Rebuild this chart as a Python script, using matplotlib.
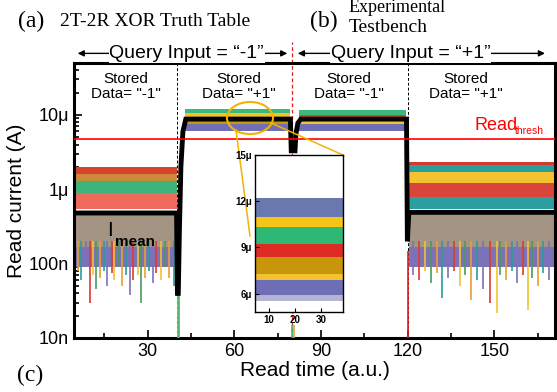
import matplotlib
matplotlib.use("Agg")
import matplotlib.pyplot as plt
from matplotlib.patches import Ellipse
from matplotlib.lines import Line2D

W, H = 557, 392
plt.rcParams['font.family'] = ['Liberation Sans', 'DejaVu Sans']

# ---- data ----
# black mean current trace, three pieces
mean_x1 = [4.5, 40.0, 40.3]
mean_y1 = [4.8e-7, 4.8e-7, 4.0e-8]
mean_x2 = [40.6, 41.0, 41.5, 42.2, 43.2, 79.4, 79.7]
mean_y2 = [4.0e-8, 3.0e-7, 2.0e-6, 6.0e-6, 8.8e-6, 8.8e-6, 3.3e-6]
mean_x3 = [81.0, 81.3, 82.0, 83.0, 119.6, 119.9, 120.4, 121.5, 171.0]
mean_y3 = [3.3e-6, 5.5e-6, 7.8e-6, 8.8e-6, 8.8e-6, 2.0e-7, 4.9e-7, 4.9e-7, 4.9e-7]

# time spans of the four states
low1_span = (4.5, 40.0)
high1_span = (43.0, 79.3)
high2_span = (82.5, 119.5)
low2_span = (120.6, 171.0)

# envelopes of the cell traces in each state (bottom, top)
low1_bot = [9e-8, 1.7e-7, 1.3e-6, 1.0e-6, 7.5e-7, 5.5e-7]
low1_top = [2.2e-7, 4.6e-7, 2.0e-6, 1.6e-6, 1.3e-6, 9.0e-7]
low1_col = ['#7b72b8', '#a39484', '#d8432e', '#c98a3a', '#3db37a', '#ef6a5d']

low2_bot = [9e-8, 1.7e-7, 1.5e-6, 1.6e-6, 1.1e-6, 6.5e-7, 5.5e-7]
low2_top = [2.2e-7, 4.6e-7, 2.3e-6, 2.1e-6, 1.7e-6, 1.2e-6, 8.0e-7]
low2_col = ['#7b72b8', '#a39484', '#d23a2f', '#2b9ea0', '#f2c230', '#d9453a', '#2b9ea0']

high1_bot = [6.0e-6, 7.5e-6, 9.0e-6, 1.05e-5]
high1_top = [7.8e-6, 9.5e-6, 1.1e-5, 1.2e-5]
high1_col = ['#6f6fb8', '#c8960a', '#f2c230', '#3cb878']

high2_bot = [6.0e-6, 7.5e-6, 8.8e-6, 1.0e-5]
high2_top = [7.6e-6, 9.2e-6, 1.05e-5, 1.18e-5]
high2_col = ['#6f6fb8', '#f2c230', '#d9453a', '#3cb878']

# downward noise spikes in the low states
low1_spk_x = [6, 7, 8.5, 10, 11, 12.2, 13.5, 15, 16, 17.5, 18.5, 20, 21, 22.5,
              24, 25, 26.5, 27.8, 29, 30.5, 32, 33, 34.5, 36, 37.5, 39]
low1_spk_y = [8e-8, 6e-8, 9e-8, 3e-8, 7e-8, 4.5e-8, 6.5e-8, 8e-8, 5e-8, 7.5e-8,
              6e-8, 9e-8, 5e-8, 7e-8, 3.8e-8, 6e-8, 7e-8, 3e-8, 6.5e-8, 8e-8,
              5.5e-8, 7.5e-8, 6e-8, 9e-8, 6.5e-8, 5e-8]
low2_spk_x = [122, 124, 126, 128, 130, 132, 134, 136, 138, 140, 142, 144, 146,
              148.5, 150.8, 152, 154, 156, 158, 160, 161.6, 163, 165, 167, 169]
low2_spk_y = [7e-8, 6e-8, 8e-8, 5.5e-8, 7.5e-8, 3.4e-8, 6.5e-8, 8e-8, 5e-8,
              7e-8, 3.2e-8, 6e-8, 4.5e-8, 3e-8, 2.2e-8, 7e-8, 6e-8, 8e-8,
              5.5e-8, 7e-8, 2.4e-8, 6.5e-8, 5e-8, 7.5e-8, 6e-8]
spk_col = ['#e8a030', '#2a9d9f', '#7b72b8', '#e03a2e', '#f2c230', '#4a9a60']

# inset (zoom on the "+1" state), linear scale
ins_span = (4.6, 38.5)
ins_bot = [5.5e-6, 5.9e-6, 6.9e-6, 7.3e-6, 8.4e-6, 9.2e-6, 1.03e-5, 1.1e-5]
ins_top = [6.2e-6, 7.3e-6, 7.5e-6, 8.6e-6, 9.4e-6, 1.06e-5, 1.15e-5, 1.22e-5]
ins_col = ['#b4b4d2', '#6e6eb6', '#f2c230', '#c8960a', '#de2b24', '#2fb874',
           '#f5c518', '#6a78b0']

read_thresh = 4.8e-6

x_ticks = [30, 60, 90, 120, 150]
y_ticks = [1e-8, 1e-7, 1e-6, 1e-5]
y_labels = ['10n', '100n', '1\u03bc', '10\u03bc']
ins_xticks = [10, 20, 30]
ins_yticks = [6e-6, 9e-6, 12e-6, 15e-6]
ins_ylabels = ['6\u03bc', '9\u03bc', '12\u03bc', '15\u03bc']

# ---- figure ----
fig = plt.figure(figsize=(W / 100, H / 100), dpi=100)
ax = fig.add_axes([74 / W, 1 - 338 / H, 481 / W, 275 / H])
ax.set_yscale('log')
ax.set_xlim(4.5, 171)
ax.set_ylim(1e-8, 5e-5)


def bands(span, bots, tops, cols):
    for b, t, c in zip(bots, tops, cols):
        ax.fill_between(span, [b, b], [t, t], color=c, lw=0, zorder=2)


bands(low1_span, low1_bot, low1_top, low1_col)
bands(low2_span, low2_bot, low2_top, low2_col)
bands(high1_span, high1_bot, high1_top, high1_col)
bands(high2_span, high2_bot, high2_top, high2_col)

for i, (x, y) in enumerate(zip(low1_spk_x, low1_spk_y)):
    ax.vlines(x, y, 2e-7, color=spk_col[i % len(spk_col)], lw=1.2, zorder=2)
for i, (x, y) in enumerate(zip(low2_spk_x, low2_spk_y)):
    ax.vlines(x, y, 2e-7, color=spk_col[(i + 2) % len(spk_col)], lw=1.2, zorder=2)

# switching traces touching the floor
ax.vlines(40.4, 1e-8, 3e-7, color='#e8a030', lw=1.2, zorder=3)
ax.vlines(40.9, 1e-8, 3e-7, color='#3cb878', lw=1.2, zorder=3)
ax.vlines(79.9, 1e-8, 1.5e-8, color='#3cb878', lw=1.2, zorder=3)
ax.vlines(80.5, 1e-8, 1.5e-8, color='#e8a030', lw=1.2, zorder=3)
ax.vlines(120.2, 1e-8, 1.5e-7, color='#e02020', lw=1.2, zorder=3)

for mx, my in [(mean_x1, mean_y1), (mean_x2, mean_y2), (mean_x3, mean_y3)]:
    ax.plot(mx, my, color='black', lw=3.5, zorder=4, solid_joinstyle='miter')

ax.axhline(read_thresh, color='#ff0000', lw=1.2, zorder=5)
ax.axvline(40, color='black', ls=(0, (3, 2)), lw=0.7, zorder=1)
ax.axvline(120, color='black', ls=(0, (3, 2)), lw=0.7, zorder=1)
ax.axvline(80, ymax=1.075, color='#e02020', ls=(0, (3, 2)), lw=0.9,
           zorder=1, clip_on=False)

ax.set_xticks(x_ticks)
ax.set_xticks([15, 45, 75, 105, 135, 165], minor=True)
ax.set_yticks(y_ticks)
ax.set_yticklabels(y_labels)
ax.tick_params(which='both', direction='in', labelsize=13, width=1.2)
ax.tick_params(which='major', length=6)
ax.tick_params(which='minor', length=3.5)
for s in ax.spines.values():
    s.set_linewidth(2.2)
ax.set_xlabel('Read time (a.u.)', fontsize=15, labelpad=1)
ax.set_ylabel('Read current (A)', fontsize=15, labelpad=2)

# state labels
for cx, txt in [(22.5, '"-1"'), (61.5, '"+1"'), (99.5, '"-1"'), (140, '"+1"')]:
    ax.text(cx, 0.915, 'Stored\nData= ' + txt, transform=ax.get_xaxis_transform(),
            ha='center', va='center', fontsize=11, linespacing=1.05)

# query input header
hy = 1.035
ax.annotate('', xy=(4.8, hy), xytext=(79.3, hy), xycoords=ax.get_xaxis_transform(),
            arrowprops=dict(arrowstyle='<|-|>', color='black', lw=1, mutation_scale=9),
            annotation_clip=False)
ax.annotate('', xy=(81.0, hy), xytext=(168.5, hy), xycoords=ax.get_xaxis_transform(),
            arrowprops=dict(arrowstyle='<|-|>', color='black', lw=1, mutation_scale=9),
            annotation_clip=False)
ax.text(43.5, hy, 'Query Input = \u201c-1\u201d', transform=ax.get_xaxis_transform(),
        ha='center', va='center', fontsize=14, bbox=dict(fc='white', ec='none', pad=0.5))
ax.text(121, hy, 'Query Input = \u201c+1\u201d', transform=ax.get_xaxis_transform(),
        ha='center', va='center', fontsize=14, bbox=dict(fc='white', ec='none', pad=0.5))

# threshold / mean labels
fig.text(474 / W, 1 - 126 / H, 'Read', color='#ff0000', fontsize=13, va='center')
fig.text(515 / W, 1 - 131 / H, 'thresh', color='#ff0000', fontsize=7.5, va='center')
fig.text(107 / W, 1 - 231 / H, 'I', color='black', fontsize=15, va='center')
fig.text(115 / W, 1 - 242 / H, 'mean', color='black', fontsize=11,
         fontweight='bold', va='center')

# panel captions
serif = 'Liberation Serif'
fig.text(18 / W, 1 - 21 / H, '(a)', family=serif, fontsize=17, va='center')
fig.text(60 / W, 1 - 22 / H, '2T-2R XOR Truth Table', family=serif, fontsize=14, va='center')
fig.text(310 / W, 1 - 21 / H, '(b)', family=serif, fontsize=17, va='center')
fig.text(349 / W, 1 - 27 / H, 'Testbench', family=serif, fontsize=14, va='center')
fig.text(349 / W, 1 - 8 / H, 'Experimental', family=serif, fontsize=13, va='center')
fig.text(17 / W, 1 - 375 / H, '(c)', family=serif, fontsize=17, va='center')

# zoom circle and leader lines
yel = '#f2b400'
fig.add_artist(Ellipse((250 / W, 1 - 118 / H), 46 / W, 32 / H, fill=False,
                       ec=yel, lw=1.5, transform=fig.transFigure, zorder=6))
fig.add_artist(Line2D([236 / W, 250 / W], [1 - 130 / H, 1 - 236 / H], color=yel,
                      lw=1.1, transform=fig.transFigure, zorder=6))
fig.add_artist(Line2D([271 / W, 343 / W], [1 - 123 / H, 1 - 155 / H], color=yel,
                      lw=1.1, transform=fig.transFigure, zorder=6))

# inset
ins = fig.add_axes([255 / W, 1 - 312 / H, 88 / W, 157 / H])
ins.set_zorder(7)
for b, t, c in zip(ins_bot, ins_top, ins_col):
    ins.fill_between(ins_span, [b, b], [t, t], color=c, lw=0)
ins.set_xlim(*ins_span)
ins.set_ylim(4.8e-6, 15e-6)
ins.set_xticks(ins_xticks)
ins.set_yticks(ins_yticks)
ins.set_yticklabels(ins_ylabels)
ins.tick_params(direction='in', labelsize=7, length=3, pad=2)
for lab in ins.get_xticklabels() + ins.get_yticklabels():
    lab.set_fontweight('bold')
for s in ins.spines.values():
    s.set_linewidth(1)

fig.savefig('out.png', dpi=100)
